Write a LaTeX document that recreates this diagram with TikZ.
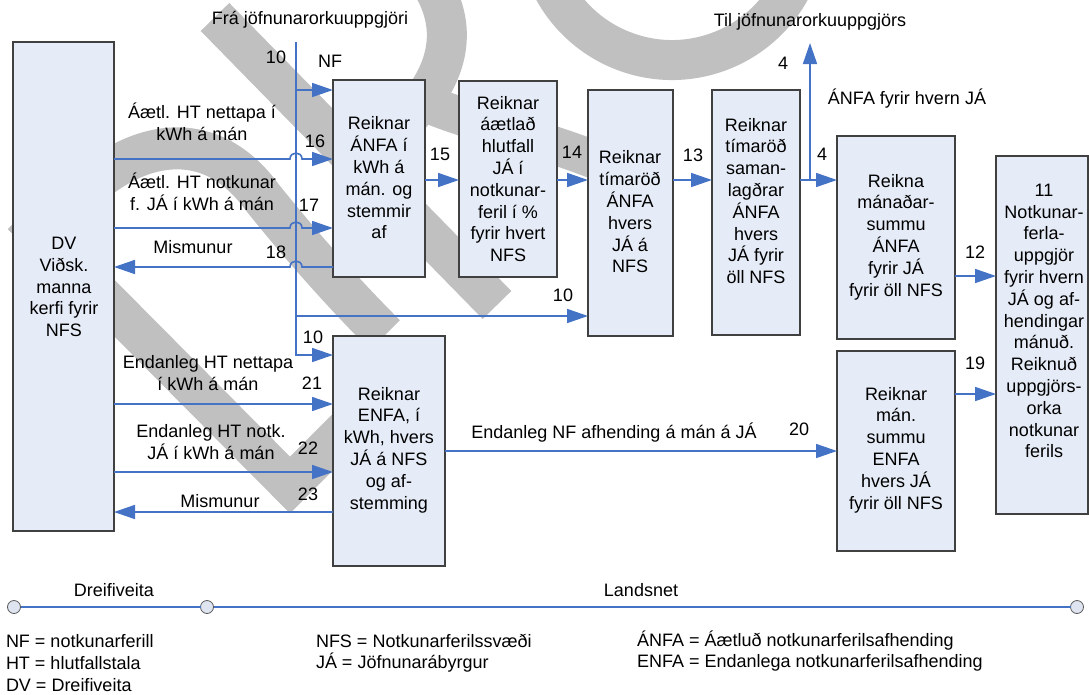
\documentclass[tikz,border=0pt]{standalone}
\usepackage{fontspec}
\setmainfont{Liberation Sans}
\usetikzlibrary{arrows.meta,calc}
\definecolor{blu}{RGB}{68,114,196}
\definecolor{boxfill}{RGB}{230,236,247}
\definecolor{boxline}{RGB}{64,64,64}
\definecolor{wm}{RGB}{192,192,192}
\definecolor{circfill}{RGB}{222,228,240}
\begin{document}
\begin{tikzpicture}[x=1pt,y=-1pt,
  every node/.style={font=\fontsize{18}{21.8}\selectfont, inner sep=0pt, outer sep=0pt},
  boxn/.style={draw=boxline, line width=1.4pt, fill=boxfill, anchor=north west, rectangle},
  arr/.style={draw=blu, line width=1.6pt, -{Triangle[length=21pt,width=14pt]}},
  lin/.style={draw=blu, line width=1.6pt},
  txt/.style={align=center},
  wmk/.style={draw=wm, line width=40pt},
  dot/.style={circle, draw=gray!70!black, fill=circfill, minimum size=13pt, line width=0.8pt},
  leg/.style={anchor=west}
]
\useasboundingbox (0,0) rectangle (1089,694);

% watermark
\begin{scope}
\clip (0,0) rectangle (1089,694);
\draw[wmk] (215,17) -- (497,305);
\draw[wmk, line join=miter] (22,215) -- (290,485) -- (420,355);
\draw[wmk, line width=42pt] (55,222) .. controls (110,150) and (200,112) .. (262,197) .. controls (298,242) and (340,290) .. (385,335);
\draw[wmk] (432,-15) .. controls (462,35) and (445,85) .. (395,130);
\draw[wmk, line width=38pt] (430,105) .. controls (480,125) and (530,135) .. (595,160);
\draw[wmk] (672,-75) ++(160:135) arc[start angle=160, end angle=20, radius=135];
\end{scope}

% boxes
\node[boxn, minimum width=101pt, minimum height=489pt] (dv) at (13,42) {};
\node[boxn, minimum width=92pt, minimum height=197pt] (b1) at (333,80) {};
\node[boxn, minimum width=98pt, minimum height=196pt] (b2) at (459,81) {};
\node[boxn, minimum width=85pt, minimum height=246pt] (b3) at (588,90) {};
\node[boxn, minimum width=88pt, minimum height=245pt] (b4) at (712,90) {};
\node[boxn, minimum width=118pt, minimum height=203pt] (b5) at (837,136) {};
\node[boxn, minimum width=92pt, minimum height=358pt] (b6) at (996,156) {};
\node[boxn, minimum width=112pt, minimum height=230pt] (b5e) at (333,336) {};
\node[boxn, minimum width=118pt, minimum height=200pt] (b7) at (837,351) {};

% box texts
\node[txt] (tdv) at (64,287) {DV\\Viðsk.\\manna\\kerfi fyrir\\NFS};
\node[txt] (tb1) at (379,178) {Reiknar\\ÁNFA í\\kWh á\\mán. og\\stemmir\\af};
\node[txt] (tb2) at (508,179) {Reiknar\\áætlað\\hlutfall\\JÁ í\\notkunar-\\feril í \%\\fyrir hvert\\NFS};
\node[txt] (tb3) at (630,212) {Reiknar\\tímaröð\\ÁNFA\\hvers\\JÁ á\\NFS};
\node[txt] (tb4) at (756,201) {Reiknar\\tímaröð\\saman-\\lagðrar\\ÁNFA\\hvers\\JÁ fyrir\\öll NFS};
\node[txt] (tb5) at (896,237) {Reikna\\mánaðar-\\summu\\ÁNFA\\fyrir JÁ\\fyrir öll NFS};
\node[txt] (tb6) at (1044,321) {11\\Notkunar-\\ferla-\\uppgjör\\fyrir hvern\\JÁ og af-\\hendingar\\mánuð.\\Reiknuð\\uppgjörs-\\orka\\notkunar\\ferils};
\node[txt] (tb5e) at (389,450) {Reiknar\\ENFA, í\\kWh, hvers\\JÁ á NFS\\og af-\\stemming};
\node[txt] (tb7) at (896,450) {Reiknar\\mán.\\summu\\ENFA\\hvers JÁ\\fyrir öll NFS};

% row coordinates
\coordinate (bt) at (296,42);
\coordinate (j1) at (296,90);
\coordinate (j2) at (296,316);
\coordinate (j3) at (296,355);
\coordinate (r16) at (0,159);
\coordinate (r17) at (0,228);
\coordinate (r18) at (0,267);
\coordinate (r15) at (0,180);
\coordinate (r12) at (0,276);
\coordinate (r19) at (0,394);
\coordinate (r20) at (0,451);
\coordinate (r21) at (0,404);
\coordinate (r22) at (0,472);
\coordinate (r23) at (0,512);
\coordinate (up0) at (810,180);
\coordinate (uptip) at (810,43);

% bus
\draw[arr] (bt) -- (j3) -- (j3 -| b5e.west);
\draw[arr] (j1) -- (j1 -| b1.west);
\draw[arr] (j2) -- (j2 -| b3.west);

% inputs with hops
\draw[arr] (dv.east |- r16) -- (290,159) .. controls (290,151) and (302,151) .. (302,159) -- (b1.west |- r16);
\draw[arr] (dv.east |- r17) -- (290,228) .. controls (290,220) and (302,220) .. (302,228) -- (b1.west |- r17);
\draw[arr] (b1.west |- r18) -- (302,267) .. controls (302,259) and (290,259) .. (290,267) -- (dv.east |- r18);

% chain
\draw[arr] (b1.east |- r15) -- (b2.west |- r15);
\draw[arr] (b2.east |- r15) -- (b3.west |- r15);
\draw[arr] (b3.east |- r15) -- (b4.west |- r15);
\draw[arr] (b4.east |- r15) -- (b5.west |- r15);
\draw[arr] (up0) -- (uptip);
\draw[arr] (b5.east |- r12) -- (b6.west |- r12);
\draw[arr] (b7.east |- r19) -- (b6.west |- r19);
\draw[arr] (b5e.east |- r20) -- (b7.west |- r20);
\draw[arr] (dv.east |- r21) -- (b5e.west |- r21);
\draw[arr] (dv.east |- r22) -- (b5e.west |- r22);
\draw[arr] (b5e.west |- r23) -- (dv.east |- r23);

% labels
\node (lfra) at (310,20) {Frá jöfnunarorkuuppgjöri};
\node (l10a) at (276,57) {10};
\node (lnf) at (330,61) {NF};
\node[txt] (lht1) at (202,122) {Áætl. HT nettapa í\\kWh á mán};
\node (l16) at (315,141) {16};
\node (l15) at (440,154) {15};
\node[txt] (lht2) at (202,192) {Áætl. HT notkunar\\f. JÁ í kWh á mán};
\node (l17) at (309,205) {17};
\node (lmis1) at (193,247) {Mismunur};
\node (l18) at (276,252) {18};
\node (l14) at (572,152) {14};
\node (l13) at (693,155) {13};
\node (l4a) at (783,63) {4};
\node (lanfa) at (907,99) {ÁNFA fyrir hvern JÁ};
\node (ltil) at (810,22) {Til jöfnunarorkuuppgjörs};
\node (l4b) at (822,154) {4};
\node (l12) at (975,252) {12};
\node (l10b) at (563,295) {10};
\node (l10c) at (313,337) {10};
\node[txt] (lht3) at (208,373) {Endanleg HT nettapa\\í kWh á mán};
\node (l21) at (312,383) {21};
\node[txt] (lht4) at (211,442) {Endanleg HT notk.\\JÁ í kWh á mán};
\node (l22) at (308,448) {22};
\node (lmis2) at (220,501) {Mismunur};
\node (l23) at (308,494) {23};
\node (lend) at (614,433) {Endanleg NF afhending á mán á JÁ};
\node (l20) at (799,429) {20};
\node (l19) at (975,363) {19};

% bottom scale
\node[dot] (c1) at (14,607) {};
\node[dot] (c2) at (207,607) {};
\node[dot] (c3) at (1077,607) {};
\draw[lin] (c1) -- (c2);
\draw[lin] (c2) -- (c3);
\node (ldv) at (114,590) {Dreifiveita};
\node (lls) at (641,590) {Landsnet};

% legend
\node[leg] (g1) at (6,641) {NF = notkunarferill};
\node[leg] (g2) at (6,663) {HT = hlutfallstala};
\node[leg] (g3) at (6,685) {DV = Dreifiveita};
\node[leg] (g4) at (316,641) {NFS = Notkunarferilssvæði};
\node[leg] (g5) at (316,663) {JÁ = Jöfnunarábyrgur};
\node[leg] (g6) at (637,641) {ÁNFA = Áætluð notkunarferilsafhending};
\node[leg] (g7) at (637,663) {ENFA = Endanlega notkunarferilsafhending};
\end{tikzpicture}
\end{document}
